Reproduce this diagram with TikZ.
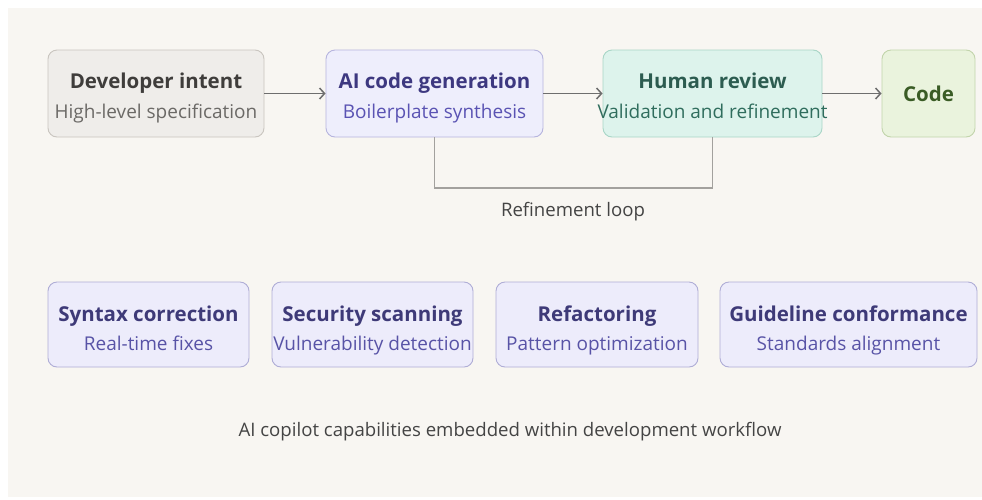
\documentclass[tikz,border=0pt]{standalone}
\usepackage{fontspec}
\setmainfont{Open Sans}
\usetikzlibrary{arrows.meta}

\definecolor{pagebg}{HTML}{F8F6F2}
\definecolor{devfill}{HTML}{EFEDEA}
\definecolor{devline}{HTML}{C9C5BF}
\definecolor{devtitle}{HTML}{3F3D3B}
\definecolor{devsub}{HTML}{6B6966}
\definecolor{aifill}{HTML}{EEEEFC}
\definecolor{ailine}{HTML}{B6B4DE}
\definecolor{aititle}{HTML}{3D3880}
\definecolor{aisub}{HTML}{5A53B3}
\definecolor{hrfill}{HTML}{DDF3EC}
\definecolor{hrline}{HTML}{A9D6C7}
\definecolor{hrtitle}{HTML}{2C5C50}
\definecolor{hrsub}{HTML}{2F6D5D}
\definecolor{codefill}{HTML}{EAF3DD}
\definecolor{codeline}{HTML}{C2D4AB}
\definecolor{codetext}{HTML}{3A5C25}
\definecolor{capfill}{HTML}{EDECFB}
\definecolor{capline}{HTML}{AFADD6}
\definecolor{captitle}{HTML}{3E3A78}
\definecolor{capsub}{HTML}{5853A6}
\definecolor{arrowgray}{HTML}{6E6E6E}
\definecolor{loopgray}{HTML}{A3A19E}
\definecolor{notegray}{HTML}{444444}

\begin{document}
\begin{tikzpicture}[x=1pt,y=-1pt,
  box/.style={draw, rounded corners=9pt, line width=0.9pt, minimum height=87pt, inner sep=0pt},
  capbox/.style={box, minimum height=85pt, fill=capfill, draw=capline},
  ttl/.style={font=\fontsize{20.5}{21}\selectfont\bfseries, inner sep=0pt, anchor=base},
  sub/.style={font=\fontsize{19}{20}\selectfont, inner sep=0pt, anchor=base},
  note/.style={font=\fontsize{18.6}{19}\selectfont, text=notegray, inner sep=0pt, anchor=base},
  flow/.style={draw=arrowgray, line width=1.5pt, -{Straight Barb[length=5pt,width=11pt]}},
  loopline/.style={draw=loopgray, line width=1.2pt}
]
\useasboundingbox (0,0) rectangle (982,499);
\fill[white] (0,0) rectangle (982,499);
\fill[pagebg] (8,8) rectangle (982,497);

% workflow row
\node[box, fill=devfill, draw=devline, minimum width=216pt] (dev) at (156,93.5) {};
\node[box, fill=aifill, draw=ailine, minimum width=217pt] (ai) at (434.5,93.5) {};
\node[box, fill=hrfill, draw=hrline, minimum width=219pt] (hr) at (712.5,93.5) {};
\node[box, fill=codefill, draw=codeline, minimum width=93pt] (code) at (928.5,93.5) {};

\node[ttl, text=devtitle] (devt) at ([yshift=5.5pt]dev.center) {Developer intent};
\node[sub, text=devsub] (devs) at ([yshift=-24.5pt]dev.center) {High-level specification};
\node[ttl, text=aititle] (ait) at ([yshift=5.5pt]ai.center) {AI code generation};
\node[sub, text=aisub] (ais) at ([yshift=-24.5pt]ai.center) {Boilerplate synthesis};
\node[ttl, text=hrtitle] (hrt) at ([yshift=5.5pt]hr.center) {Human review};
\node[sub, text=hrsub] (hrs) at ([yshift=-24.5pt]hr.center) {Validation and refinement};
\node[ttl, text=codetext] (codet) at ([yshift=-7.5pt]code.center) {Code};

\draw[flow] (dev.east) -- (ai.west);
\draw[flow] (ai.east) -- (hr.west);
\draw[flow] (hr.east) -- (code.west);

% refinement loop
\coordinate (loopbase) at (573,188);
\draw[loopline] (hr.south) |- (loopbase) -| (ai.south);
\node[note] (looplabel) at (573,216) {Refinement loop};

% capability row
\node[capbox, minimum width=201pt] (syn) at (148.5,324.5) {};
\node[capbox, minimum width=201pt] (sec) at (372.5,324.5) {};
\node[capbox, minimum width=202pt] (ref) at (597,324.5) {};
\node[capbox, minimum width=257pt] (gui) at (848.5,324.5) {};

\node[ttl, text=captitle] (synt) at ([yshift=3.5pt]syn.center) {Syntax correction};
\node[sub, text=capsub] (syns) at ([yshift=-25.5pt]syn.center) {Real-time fixes};
\node[ttl, text=captitle] (sect) at ([yshift=3.5pt]sec.center) {Security scanning};
\node[sub, text=capsub] (secs) at ([yshift=-25.5pt]sec.center) {Vulnerability detection};
\node[ttl, text=captitle] (reft) at ([yshift=3.5pt]ref.center) {Refactoring};
\node[sub, text=capsub] (refs) at ([yshift=-25.5pt]ref.center) {Pattern optimization};
\node[ttl, text=captitle] (guit) at ([yshift=3.5pt]gui.center) {Guideline conformance};
\node[sub, text=capsub] (guis) at ([yshift=-25.5pt]gui.center) {Standards alignment};

\node[note] (caption) at (510,436) {AI copilot capabilities embedded within development workflow};
\end{tikzpicture}
\end{document}
